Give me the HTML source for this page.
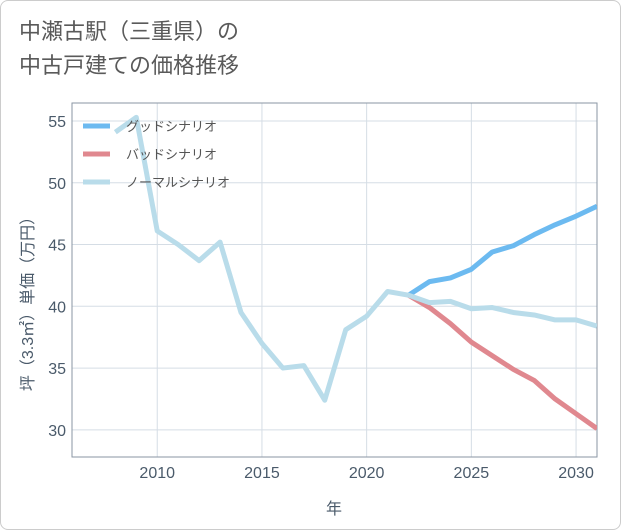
<!DOCTYPE html>
<html><head><meta charset="utf-8"><style>
body{margin:0;background:#fff;}
#wrap{position:relative;width:619px;height:528px;border:1px solid #ccc;border-radius:8px;background:#fff;overflow:hidden;}
.t{font-family:"Liberation Sans","Noto Sans CJK JP",sans-serif;}
</style></head><body>
<div id="wrap">
<div class="t" style="position:absolute;left:18px;top:14px;font-size:22px;line-height:34px;color:#5a5a5a;">中瀬古駅（三重県）の<br>中古戸建ての価格推移</div>
<svg id="svg" width="621" height="530" style="position:absolute;left:-1px;top:-1px"></svg>
</div>
<script>
const years=[2008,2009,2010,2011,2012,2013,2014,2015,2016,2017,2018,2019,2020,2021,2022,2023,2024,2025,2026,2027,2028,2029,2030,2031];
const normal=[54.1,55.3,46.1,45.0,43.7,45.2,39.5,37.0,35.0,35.2,32.4,38.1,39.2,41.2,40.9,40.3,40.4,39.8,39.9,39.5,39.3,38.9,38.9,38.4];
const goodYears=[2022,2023,2024,2025,2026,2027,2028,2029,2030,2031];
const good=[40.9,42.0,42.3,43.0,44.4,44.9,45.8,46.6,47.3,48.1];
const bad=[40.9,39.9,38.6,37.1,36.0,34.9,34.0,32.5,31.3,30.1];
const xTicks=[2010,2015,2020,2025,2030];
const yTicks=[30,35,40,45,50,55];
const L=72,R=597,T=103,B=457,X0=2005.93,X1=2031,Y0=27.8,Y1=56.46;
const sx=v=>L+(v-X0)/(X1-X0)*(R-L), sy=v=>B-(v-Y0)/(Y1-Y0)*(B-T);
const svg=document.getElementById('svg'),NS='http://www.w3.org/2000/svg';
function mk(tag,a,name){const e=document.createElementNS(NS,tag);for(const k in a)e.setAttribute(k,a[k]);


svg.appendChild(e);return e;}
const defs=mk('clipPath',{id:'c'},'clip');defs.innerHTML=`<rect x="${L}" y="${T}" width="${R-L}" height="${B-T}"/>`;
xTicks.forEach(v=>{mk('line',{x1:sx(v),x2:sx(v),y1:T,y2:B,stroke:'#d5dde5'},'x-gridline');
const t=mk('text',{x:sx(v),y:478,'text-anchor':'middle','font-size':16,fill:'#4a5a6a',class:'t'},'x-tick-label');t.textContent=v;});
yTicks.forEach(v=>{mk('line',{x1:L,x2:R,y1:sy(v),y2:sy(v),stroke:'#d5dde5'},'y-gridline');
const t=mk('text',{x:66,y:sy(v)+6,'text-anchor':'end','font-size':16,fill:'#4a5a6a',class:'t'},'y-tick-label');t.textContent=v;});
mk('rect',{x:L,y:T,width:R-L,height:B-T,fill:'none',stroke:'#8a96a3'},'plot-frame');
function line(xs,ys,c,n){mk('polyline',{points:xs.map((x,i)=>sx(x)+','+sy(ys[i])).join(' '),fill:'none',stroke:c,'stroke-width':5,'stroke-linejoin':'round','clip-path':'url(#c)'},n);}
line(goodYears,good,'#6cbaf0','good-scenario-line');
line(goodYears,bad,'#e0888f','bad-scenario-line');
line(years,normal,'#b9dcea','normal-scenario-line');
[['グッドシナリオ','#6cbaf0'],['バッドシナリオ','#e0888f'],['ノーマルシナリオ','#b9dcea']].forEach((d,i)=>{const y=126+i*28;
mk('line',{x1:83,x2:110,y1:y,y2:y,stroke:d[1],'stroke-width':5},'legend-swatch');
const t=mk('text',{x:126,y:y+5,'font-size':13,fill:'#555',class:'t'},'legend-entry');t.textContent=d[0];});
const xt=mk('text',{x:334,y:514,'text-anchor':'middle','font-size':16,fill:'#4a5a6a',class:'t'},'x-axis-title');xt.textContent='年';
const yt=mk('text',{x:0,y:0,'text-anchor':'middle','font-size':16,fill:'#4a5a6a',class:'t',transform:'translate(33,300) rotate(-90)'},'y-axis-title');yt.textContent='坪（3.3㎡）単価（万円）';
</script>
</body></html>
